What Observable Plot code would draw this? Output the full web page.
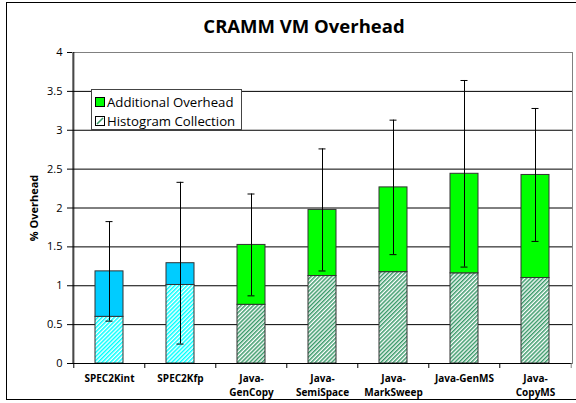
<!DOCTYPE html>
<html><head><meta charset="utf-8">
<script src="https://cdn.jsdelivr.net/npm/d3@7"></script>
<script src="https://cdn.jsdelivr.net/npm/@observablehq/plot@0.6"></script>
<style>
html,body{margin:0;padding:0;background:#fff;}
#wrap{position:relative;width:576px;height:403px;overflow:hidden;font-family:"Open Sans",sans-serif;color:#000;}
#border{position:absolute;left:6px;top:2px;width:700px;height:398px;border:1px solid #000;box-sizing:border-box;}
#title{position:absolute;left:16px;top:13px;width:576px;text-align:center;font-weight:bold;font-size:18.5px;}
#ylabel{position:absolute;left:33px;top:208px;transform:translate(-50%,-50%) rotate(-90deg);font-weight:bold;font-size:11px;white-space:nowrap;}
#legend{position:absolute;left:91px;top:89px;width:151px;height:41px;box-sizing:border-box;border:1px solid #444;background:#fff;font-size:13.2px;padding:2px 0 0 3px;}
#legend .row{display:flex;align-items:center;height:19px;}
#legend svg{margin-right:2px;}
svg.plot{position:absolute;left:0;top:0;}
</style></head><body>
<div id="wrap"><div id="border"></div></div>
<script>
const categories = ["SPEC2Kint","SPEC2Kfp","Java-GenCopy","Java-SemiSpace","Java-MarkSweep","Java-GenMS","Java-CopyMS"];
const xLabels = ["SPEC2Kint","SPEC2Kfp","Java-\nGenCopy","Java-\nSemiSpace","Java-\nMarkSweep","Java-GenMS","Java-\nCopyMS"];
const groups = ["SPEC","SPEC","Java","Java","Java","Java","Java"];
const histogram = [0.60, 1.01, 0.755, 1.125, 1.175, 1.16, 1.10];
const additional = [0.585, 0.28, 0.77, 0.85, 1.09, 1.28, 1.325];
const errorHalf = [0.64, 1.04, 0.655, 0.785, 0.865, 1.20, 0.855];
const yTicks = [0,0.5,1,1.5,2,2.5,3,3.5,4];
const yTickLabels = ["0","0.5","1","1.5","2","2.5","3","3.5","4"];
const seriesNames = ["Additional Overhead","Histogram Collection"];
const titleText = "CRAMM VM Overhead";
const yTitle = "% Overhead";

const W = 576, H = 403, ml = 72, mr = 4, mt = 52, mb = 40;
const step = (W - ml - mr) / categories.length;
const rows = categories.map((c, i) => ({cat: c, group: groups[i], hist: histogram[i], total: histogram[i] + additional[i], err: errorHalf[i]}));
const spec = rows.filter(d => d.group === "SPEC");
const java = rows.filter(d => d.group === "Java");
const colors = {SPEC: {solid: "#00CCFF", hatch: "hatchCyan"}, Java: {solid: "#00FF00", hatch: "hatchGreen"}};
const barStroke = "#333";

const bars = (data, g) => [
  Plot.barY(data, {x: "cat", y1: 0, y2: "hist", fill: `url(#${colors[g].hatch})`, stroke: barStroke, strokeWidth: 1}),
  Plot.barY(data, {x: "cat", y1: "hist", y2: "total", fill: colors[g].solid, stroke: barStroke, strokeWidth: 1})
];

const chart = Plot.plot({
  width: W, height: H,
  marginLeft: ml, marginRight: mr, marginTop: mt, marginBottom: mb,
  style: {fontFamily: "'Open Sans', sans-serif", background: "transparent", color: "#000", overflow: "visible"},
  x: {domain: categories, paddingInner: 0.6, paddingOuter: 0.3, label: null},
  y: {domain: [0, 4], label: null},
  marks: [
    Plot.frame({stroke: "#808080"}),
    Plot.ruleY(yTicks.filter(t => t > 0 && t < 4), {stroke: "#000"}),
    ...bars(spec, "SPEC"),
    ...bars(java, "Java"),
    Plot.ruleX(rows, {x: "cat", y1: d => d.total - d.err, y2: d => d.total + d.err, stroke: "#000"}),
    Plot.tickY(rows, {x: "cat", y: d => d.total - d.err, insetLeft: 10.5, insetRight: 10.5, stroke: "#000"}),
    Plot.tickY(rows, {x: "cat", y: d => d.total + d.err, insetLeft: 10.5, insetRight: 10.5, stroke: "#000"}),
    Plot.ruleY([0], {stroke: "#000"}),
    Plot.ruleX([categories[0]], {x: d => d, dx: -step / 2, insetBottom: -5, stroke: "#000"}),
    Plot.ruleX(categories.slice(1), {x: d => d, dx: -step / 2, insetTop: H - mt - mb, insetBottom: -5, stroke: "#000"}),
    Plot.ruleX([categories[categories.length - 1]], {x: d => d, dx: step / 2, insetTop: H - mt - mb, insetBottom: -5, stroke: "#808080"}),
    Plot.axisY({ticks: yTicks, tickFormat: d => yTickLabels[yTicks.indexOf(d)], tickSize: 5, tickPadding: 5, fontSize: 11, label: null}),
    Plot.axisX({tickSize: 0, tickPadding: 8, tickFormat: d => xLabels[categories.indexOf(d)], fontSize: 10, fontWeight: "bold", lineHeight: 1.45, label: null})
  ]
});

const defs = d3.select(chart).insert("defs", ":first-child");
function hatch(id, color) {
  const p = defs.append("pattern").attr("id", id).attr("patternUnits", "userSpaceOnUse")
    .attr("width", 2.9).attr("height", 2.9).attr("patternTransform", "rotate(45)");
  p.append("rect").attr("width", 2.9).attr("height", 2.9).attr("fill", "#fff");
  p.append("rect").attr("width", 1.5).attr("height", 2.9).attr("fill", color);
}
hatch("hatchCyan", "#00FFFF");
hatch("hatchGreen", "#3A9A6A");

const wrap = document.getElementById("wrap");
wrap.appendChild(chart);

const title = document.createElement("div");
title.id = "title"; title.textContent = titleText; wrap.appendChild(title);
const yl = document.createElement("div");
yl.id = "ylabel"; yl.textContent = yTitle; wrap.appendChild(yl);

const legend = document.createElement("div");
legend.id = "legend";
legend.innerHTML = `
<div class="row"><svg width="10" height="10"><rect x="0.5" y="0.5" width="9" height="9" fill="#00FF00" stroke="#000"/></svg><span>${seriesNames[0]}</span></div>
<div class="row"><svg width="10" height="10"><rect x="0.5" y="0.5" width="9" height="9" fill="#fff" stroke="#000"/><line x1="2" y1="8" x2="8" y2="2" stroke="#3A9A6A" stroke-width="1.6"/></svg><span>${seriesNames[1]}</span></div>`;
wrap.appendChild(legend);
</script>
</body></html>
